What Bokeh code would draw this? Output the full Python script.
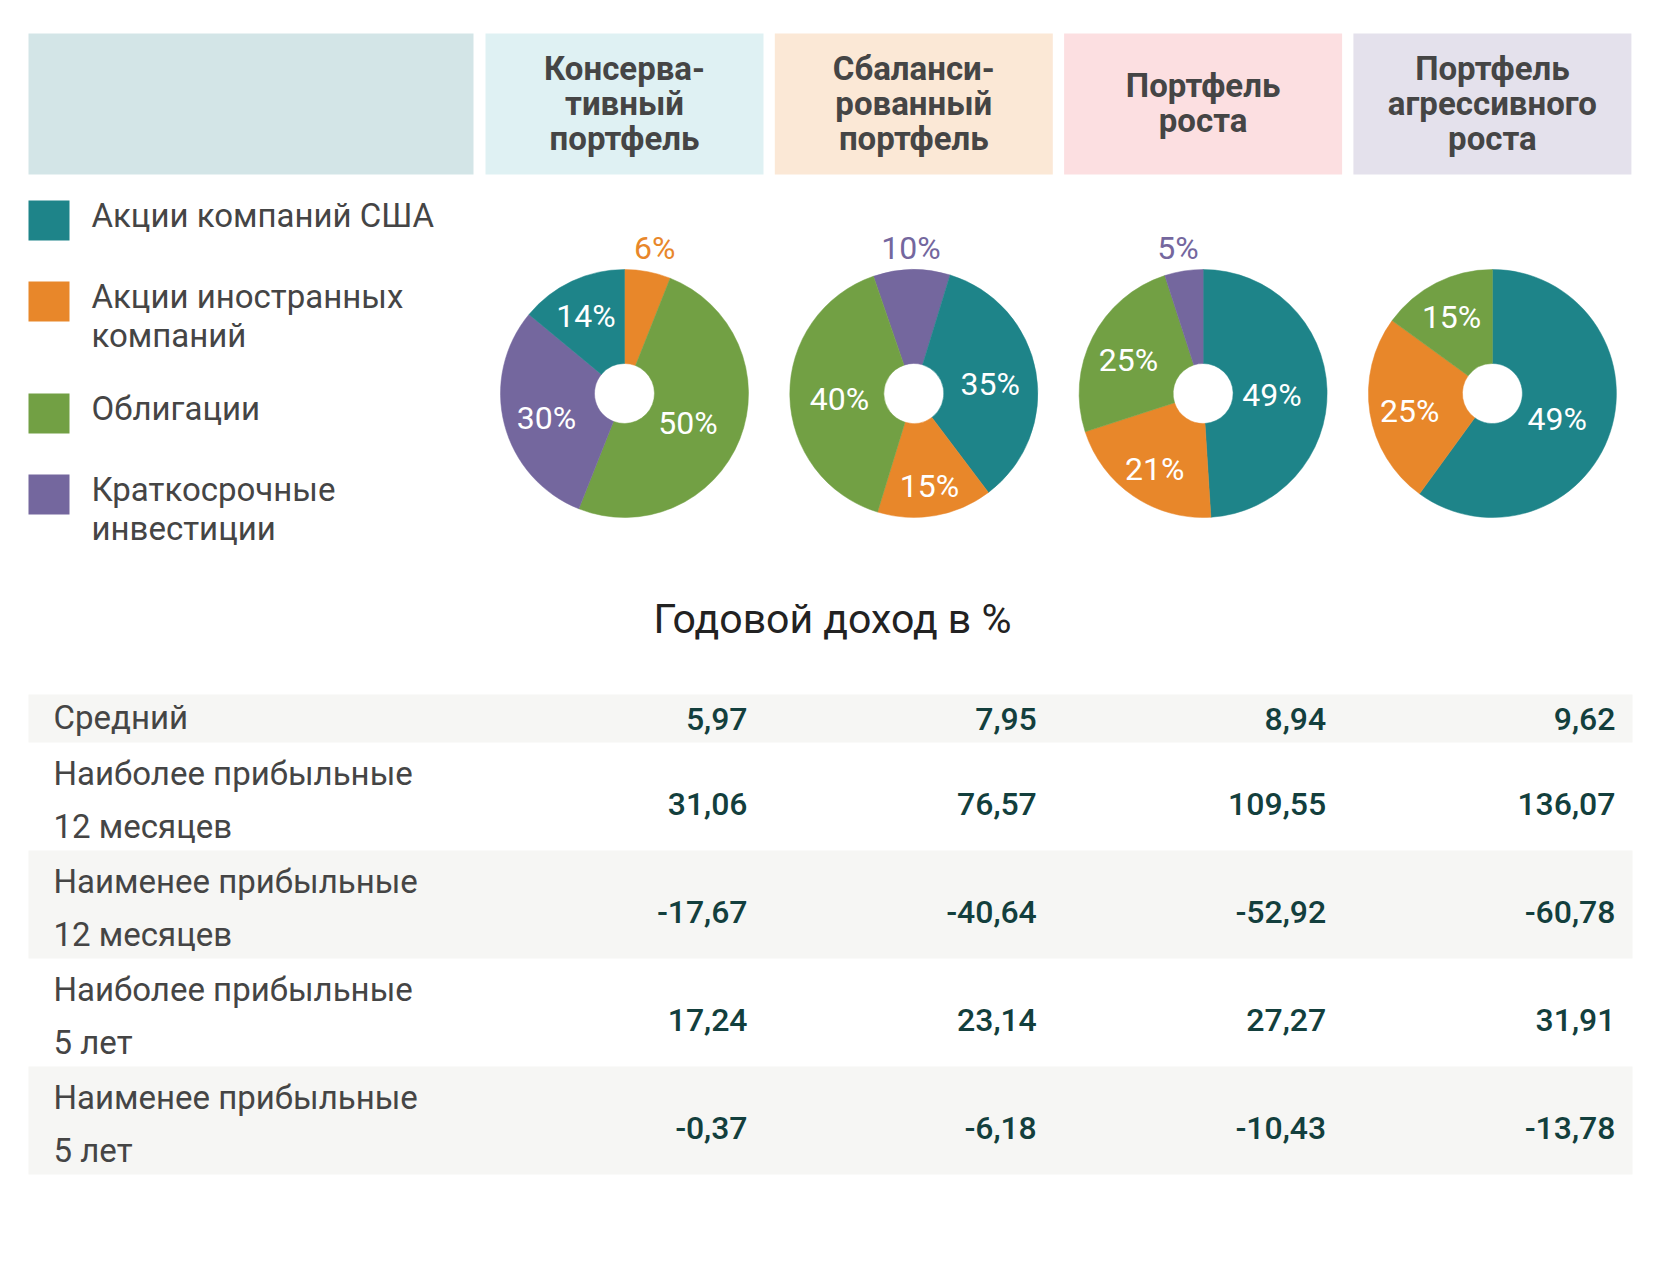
import math
from bokeh.plotting import figure
from bokeh.models import Range1d, ColumnDataSource
from bokeh.core.properties import value
from bokeh.embed import file_html
from bokeh.resources import INLINE

# ---------------- data ----------------
portfolio_titles = ["Консерва-\nтивный\nпортфель", "Сбаланси-\nрованный\nпортфель",
                    "Портфель\nроста", "Портфель\nагрессивного\nроста"]
asset_classes = ["Акции компаний США", "Акции иностранных\nкомпаний", "Облигации",
                 "Краткосрочные\nинвестиции"]

# slices, clockwise: asset index, share of circle (%), printed label
conservative_assets = [1, 2, 3, 0]
conservative_shares = [6, 50, 30, 14]
conservative_labels = ["6%", "50%", "30%", "14%"]

balanced_assets = [3, 0, 1, 2]
balanced_shares = [10, 35, 15, 40]
balanced_labels = ["10%", "35%", "15%", "40%"]

growth_assets = [0, 1, 2, 3]
growth_shares = [49, 21, 25, 5]
growth_labels = ["49%", "21%", "25%", "5%"]

aggressive_assets = [0, 1, 2]
aggressive_shares = [60, 25, 15]
aggressive_labels = ["49%", "25%", "15%"]

table_title = "Годовой доход в %"
row_labels = ["Средний", "Наиболее прибыльные\n12 месяцев", "Наименее прибыльные\n12 месяцев",
              "Наиболее прибыльные\n5 лет", "Наименее прибыльные\n5 лет"]
conservative_returns = [5.97, 31.06, -17.67, 17.24, -0.37]
balanced_returns = [7.95, 76.57, -40.64, 23.14, -6.18]
growth_returns = [8.94, 109.55, -52.92, 27.27, -10.43]
aggressive_returns = [9.62, 136.07, -60.78, 31.91, -13.78]

# ---------------- styles ----------------
asset_colors = ["#1e8489", "#e8872a", "#72a044", "#74679e"]
header_colors = ["#dff1f3", "#fbe8d6", "#fcdfe1", "#e4e1ec"]
left_header_color = "#d3e5e7"
row_bg = "#f6f6f4"
text_gray = "#454545"
value_color = "#133f3d"
FONT = "Roboto"

pies = [
    (conservative_assets, conservative_shares, conservative_labels, 0.0),
    (balanced_assets, balanced_shares, balanced_labels, -19.0),
    (growth_assets, growth_shares, growth_labels, 0.0),
    (aggressive_assets, aggressive_shares, aggressive_labels, 0.0),
]
returns = [conservative_returns, balanced_returns, growth_returns, aggressive_returns]

W, H = 1651, 1246


def Y(y):  # page y (from top) -> data y
    return H - y


p = figure(width=W, height=H, output_backend="svg", toolbar_location=None,
           x_range=Range1d(0, W), y_range=Range1d(0, H),
           x_axis_location=None, y_axis_location=None, min_border=0,
           background_fill_color="white", border_fill_color="white")
p.outline_line_color = None
p.grid.visible = False

# layout
col_left0, col_w, col_gap = 485, 278, 11.3
head_top, head_bot = 33, 174
col_lefts = [col_left0 + i * (col_w + col_gap) for i in range(4)]
col_centers = [c + col_w / 2 for c in col_lefts]

# header boxes
p.quad(left=[28], right=[473], top=[Y(head_top)], bottom=[Y(head_bot)],
       fill_color=left_header_color, line_color=None)
p.quad(left=col_lefts, right=[c + col_w for c in col_lefts],
       top=[Y(head_top)] * 4, bottom=[Y(head_bot)] * 4,
       fill_color=header_colors, line_color=None)

hx, hy, ht = [], [], []
head_mid = (head_top + head_bot) / 2 - 1
for cx, title in zip(col_centers, portfolio_titles):
    lines = title.split("\n")
    n = len(lines)
    for i, ln in enumerate(lines):
        hx.append(cx)
        hy.append(Y(head_mid + (i - (n - 1) / 2) * 35))
        ht.append(ln)
p.text(x=hx, y=hy, text=ht, text_font=value(FONT), text_font_style="bold",
       text_font_size="33px", text_color=text_gray, text_align="center",
       text_baseline="middle")

# legend
leg_sq_tops = [200, 281, 393, 474]
lx, ly, lt = [], [], []
for top, name, col in zip(leg_sq_tops, asset_classes, asset_colors):
    p.quad(left=[28], right=[69], top=[Y(top)], bottom=[Y(top + 40)],
           fill_color=col, line_color=None)
    for i, ln in enumerate(name.split("\n")):
        lx.append(91)
        ly.append(Y(top + 15 + i * 39))
        lt.append(ln)
p.text(x=lx, y=ly, text=lt, text_font=value(FONT), text_font_size="33px",
       text_color=text_gray, text_align="left", text_baseline="middle")

# pies
R, r_in = 124, 30
pie_cy = Y(393)
for cx, (assets, shares, labels, rot) in zip(col_centers, pies):
    total = 100.0
    cum = rot / 360.0 * total
    starts, ends, cols = [], [], []
    in_x, in_y, in_t = [], [], []
    out_x, out_y, out_t, out_c = [], [], [], []
    for a, s, lab in zip(assets, shares, labels):
        f0, f1 = cum / total, (cum + s) / total
        cum += s
        starts.append(math.pi / 2 - 2 * math.pi * f1)
        ends.append(math.pi / 2 - 2 * math.pi * f0)
        cols.append(asset_colors[a])
        mid = 2 * math.pi * (f0 + f1) / 2
        if s <= 10:
            out_x.append(cx + 1.3 * R * math.sin(mid))
            out_y.append(pie_cy + 1.17 * R)
            out_t.append(lab)
            out_c.append(asset_colors[a])
        else:
            rr = R * (0.55 + 0.25 * max(0.0, 1 - s / 50.0))
            in_x.append(cx + rr * math.sin(mid))
            in_y.append(pie_cy + rr * math.cos(mid) - 4)
            in_t.append(lab)
    src = ColumnDataSource(dict(start=starts, end=ends, color=cols))
    p.annular_wedge(x=cx, y=pie_cy, inner_radius=r_in, outer_radius=R,
                    inner_radius_units="screen", outer_radius_units="screen",
                    start_angle="start", end_angle="end", direction="anticlock",
                    fill_color="color", line_color="color", line_width=0.5,
                    source=src)
    p.text(x=in_x, y=in_y, text=in_t, text_font=value(FONT), text_font_size="32px",
           text_color="white", text_align="center", text_baseline="middle")
    if out_t:
        p.text(x=out_x, y=out_y, text=out_t, text_font=value(FONT),
               text_font_size="32px", text_color=out_c, text_align="center",
               text_baseline="middle")

# table title
p.text(x=[832], y=[Y(618)], text=[table_title], text_font=value(FONT),
       text_font_size="41px", text_color="#222222", text_align="center",
       text_baseline="middle")

# table
tbl_top = 694
one_line_h, two_line_h = 48, 108
row_x, row_y, row_t = [], [], []
val_x, val_y, val_t = [], [], []
top = tbl_top
for ri, lab in enumerate(row_labels):
    lines = lab.split("\n")
    n = len(lines)
    h = one_line_h if n == 1 else two_line_h
    if ri % 2 == 0:
        p.quad(left=[28], right=[1632], top=[Y(top)], bottom=[Y(top + h)],
               fill_color=row_bg, line_color=None)
    mid = top + h / 2 + (3 if n > 1 else -1)
    for i, ln in enumerate(lines):
        row_x.append(53)
        row_y.append(Y(mid + (i - (n - 1) / 2) * 53))
        row_t.append(ln)
    for ci, col in enumerate(returns):
        val_x.append(col_lefts[ci] + col_w - 16)
        val_y.append(Y(mid + (4 if n > 1 else 1)))
        val_t.append(f"{col[ri]:.2f}".replace(".", ","))
    top += h

p.text(x=row_x, y=row_y, text=row_t, text_font=value(FONT), text_font_size="33px",
       text_color=text_gray, text_align="left", text_baseline="middle")
p.text(x=val_x, y=val_y, text=val_t, text_font=value("Roboto Medium"),
       text_font_size="32px", text_color=value_color, text_align="right",
       text_baseline="middle")

open("out.html", "w").write(file_html(p, INLINE))
